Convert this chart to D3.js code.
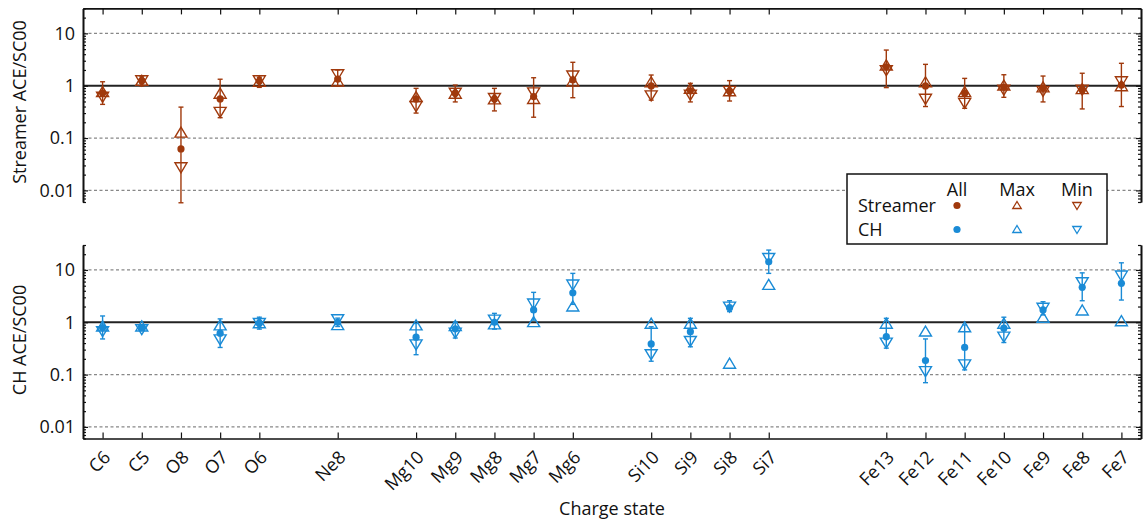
<!DOCTYPE html>
<html><head><meta charset="utf-8">
<script src="https://cdn.jsdelivr.net/npm/d3@7"></script>
<style>
body{margin:0;background:#fff}
svg{display:block}
text{font-family:"Open Sans",sans-serif;fill:#111}
</style>
</head><body><svg id="chart" width="1143" height="522"></svg>
<script>
// ---------- data ----------
const slotOrder = ["C6","C5","O8","O7","O6","","Ne8","","Mg10","Mg9","Mg8","Mg7","Mg6","","Si10","Si9","Si8","Si7","","","Fe13","Fe12","Fe11","Fe10","Fe9","Fe8","Fe7"];
const categories = ["C6","C5","O8","O7","O6","Ne8","Mg10","Mg9","Mg8","Mg7","Mg6","Si10","Si9","Si8","Si7","Fe13","Fe12","Fe11","Fe10","Fe9","Fe8","Fe7"];
const yTickValues = [0.01, 0.1, 1, 10];
const yTickLabels = ["0.01","0.1","1","10"];
const seriesNames = ["Streamer","CH"];
const statNames = ["All","Max","Min"];

// Streamer (top panel)
const streamerAll = [0.72,1.25,0.062,0.56,1.23,1.34,0.56,0.72,0.56,0.62,1.29,0.99,0.80,0.79,null,2.3,0.99,0.72,0.93,0.89,0.83,1.03];
const streamerLo  = [0.44,0.99,0.0058,0.245,0.93,0.99,0.30,0.49,0.33,0.25,0.59,0.53,0.49,0.51,null,0.92,0.40,0.37,0.60,0.49,0.36,0.40];
const streamerHi  = [1.19,1.53,0.39,1.33,1.45,2.0,0.89,1.03,0.89,1.42,2.8,1.6,1.11,1.25,null,4.8,2.56,1.38,1.62,1.53,1.73,2.68];
const streamerMax = [0.77,1.27,0.13,0.72,1.22,1.23,0.62,0.72,0.56,0.57,1.23,1.19,0.89,0.80,null,2.49,1.19,0.77,1.03,0.95,0.88,1.0];
const streamerMin = [0.60,1.24,0.027,0.31,1.24,1.62,0.40,0.72,0.57,0.73,1.53,0.64,0.66,0.78,null,1.94,0.55,0.46,0.82,0.78,0.82,1.19];

// CH (bottom panel)
const chAll = [0.79,0.79,null,0.62,0.96,1.0,0.52,0.75,1.0,1.72,3.67,0.385,0.66,1.9,14.3,0.53,0.185,0.33,0.77,1.72,4.66,5.55];
const chLo  = [0.48,0.70,null,0.33,0.74,0.83,0.24,0.50,0.74,1.1,2.2,0.18,0.34,1.6,8.6,0.32,0.07,0.123,0.41,1.38,2.58,2.66];
const chHi  = [1.32,0.88,null,1.16,1.25,1.2,0.95,1.0,1.48,3.73,8.6,0.82,1.19,2.58,24,1.19,0.48,0.89,1.25,2.47,8.8,13.7];
const chMax = [0.85,0.85,null,0.89,0.98,0.9,0.89,0.87,0.93,1.03,2.05,0.96,0.96,0.165,5.3,0.96,0.68,0.82,0.96,1.25,1.72,1.07];
const chMin = [0.66,0.72,null,0.46,0.95,1.12,0.37,0.62,1.1,2.23,5.15,0.24,0.43,1.95,16.6,0.40,0.114,0.153,0.52,1.85,5.7,7.65];

// ---------- layout ----------
const W = 1143, H = 522;
const left = 83, right = 1141;
const colors = {Streamer:"#a0390c", CH:"#1a8bd6"};
const svg = d3.select("#chart");

const slotKeys = slotOrder.map((d,i)=> d || ("gap"+i));
const x = d3.scalePoint().domain(slotKeys).range([left, right]).padding(0.5);

const panels = [
  {name:"Streamer", title:"Streamer ACE/SC00", top:8.4, bottom:202, all:streamerAll, lo:streamerLo, hi:streamerHi, max:streamerMax, min:streamerMin, xAxis:"top", titleY:102},
  {name:"CH", title:"CH ACE/SC00", top:245, bottom:438.5, all:chAll, lo:chLo, hi:chHi, max:chMax, min:chMin, xAxis:"bottom", titleY:340}
];

const triUp = (s,h)=>`M0,${-h/2}L${s/2},${h/2}L${-s/2},${h/2}Z`;
const triDown = (s,h)=>`M0,${h/2}L${s/2},${-h/2}L${-s/2},${-h/2}Z`;

const allTicks = d3.scaleLog().domain([0.006,30]).ticks();
const minorVals = allTicks.filter(v => !yTickValues.some(m => Math.abs(m - v) < 1e-12));
const fmt = d => yTickLabels[yTickValues.findIndex(m => Math.abs(m-d)<1e-12)];

panels.forEach(p => {
  const y = d3.scaleLog().domain([0.006, 30]).range([p.bottom, p.top]);
  const g = svg.append("g");
  const col = colors[p.name];

  // gridlines
  g.selectAll("line.grid").data(yTickValues.filter(v=>v!==1)).join("line")
    .attr("x1", left).attr("x2", right)
    .attr("y1", d=>y(d)).attr("y2", d=>y(d))
    .attr("stroke","#888").attr("stroke-width",1.2).attr("stroke-dasharray","3,2.5");
  g.append("line").attr("x1",left).attr("x2",right).attr("y1",y(1)).attr("y2",y(1))
    .attr("stroke","#222").attr("stroke-width",2);

  const rows = categories.map((c,i)=>({c, all:p.all[i], lo:p.lo[i], hi:p.hi[i], max:p.max[i], min:p.min[i]})).filter(d=>d.all!=null);

  // error bars
  const eb = g.append("g").attr("stroke", col).attr("stroke-width",1.4).attr("fill","none");
  eb.selectAll("line.v").data(rows).join("line")
    .attr("x1", d=>x(d.c)).attr("x2", d=>x(d.c)).attr("y1", d=>y(d.lo)).attr("y2", d=>y(d.hi));
  eb.selectAll("line.lo").data(rows).join("line")
    .attr("x1", d=>x(d.c)-2.5).attr("x2", d=>x(d.c)+2.5).attr("y1", d=>y(d.lo)).attr("y2", d=>y(d.lo));
  eb.selectAll("line.hi").data(rows).join("line")
    .attr("x1", d=>x(d.c)-2.5).attr("x2", d=>x(d.c)+2.5).attr("y1", d=>y(d.hi)).attr("y2", d=>y(d.hi));

  // max (up triangles), min (down triangles)
  g.selectAll("path.max").data(rows).join("path")
    .attr("d", triUp(12,10)).attr("transform", d=>`translate(${x(d.c)},${y(d.max)})`)
    .attr("fill","none").attr("stroke",col).attr("stroke-width",1.4);
  g.selectAll("path.min").data(rows).join("path")
    .attr("d", triDown(12,10)).attr("transform", d=>`translate(${x(d.c)},${y(d.min)})`)
    .attr("fill","none").attr("stroke",col).attr("stroke-width",1.4);
  // all (dots)
  g.selectAll("circle.all").data(rows).join("circle")
    .attr("cx", d=>x(d.c)).attr("cy", d=>y(d.all)).attr("r",3.6).attr("fill",col);

  // y axes
  const axStyle = sel => { sel.selectAll("path.domain").attr("stroke","#111").attr("stroke-width",1.6);
    sel.selectAll(".tick line").attr("stroke","#111").attr("stroke-width",1.2);
    sel.selectAll("text").style("font-size","18px").attr("fill","#111").style("font-family","'Open Sans',sans-serif"); };
  g.append("g").attr("transform",`translate(${left},0)`)
    .call(d3.axisLeft(y).tickValues(minorVals).tickSize(-3).tickSizeOuter(0).tickFormat(""))
    .call(axStyle);
  g.append("g").attr("transform",`translate(${left},0)`)
    .call(d3.axisLeft(y).tickValues(yTickValues).tickSize(-5).tickSizeOuter(0).tickPadding(8).tickFormat(fmt))
    .call(axStyle);
  g.append("g").attr("transform",`translate(${right},0)`)
    .call(d3.axisRight(y).tickValues(minorVals).tickSize(-3).tickSizeOuter(0).tickFormat(""))
    .call(axStyle);
  g.append("g").attr("transform",`translate(${right},0)`)
    .call(d3.axisRight(y).tickValues(yTickValues).tickSize(-5).tickSizeOuter(0).tickFormat(""))
    .call(axStyle);

  // x axis
  if (p.xAxis === "top") {
    g.append("g").attr("transform",`translate(0,${p.top})`)
      .call(d3.axisTop(x).tickValues(categories).tickSize(-6).tickSizeOuter(0).tickFormat(""))
      .call(axStyle);
  } else {
    const xa = g.append("g").attr("transform",`translate(0,${p.bottom})`)
      .call(d3.axisBottom(x).tickValues(categories).tickSize(-6).tickSizeOuter(0).tickFormat(""))
      .call(axStyle);
    g.selectAll("text.xl").data(categories).join("text")
      .attr("transform", d=>`translate(${x(d)+9},${p.bottom+20}) rotate(-45)`)
      .attr("text-anchor","end").style("font-size","18px").text(d=>d);
  }

  // y title
  g.append("text").attr("transform",`translate(26,${p.titleY}) rotate(-90)`)
    .attr("text-anchor","middle").style("font-size","18px").text(p.title);
});

// x title
svg.append("text").attr("x", 612).attr("y", 515).attr("text-anchor","middle").style("font-size","18px").text("Charge state");

// legend
const lg = svg.append("g");
lg.append("rect").attr("x",847).attr("y",174).attr("width",260).attr("height",70)
  .attr("fill","#fff").attr("stroke","#111").attr("stroke-width",1.5);
const colX = [957, 1017, 1077];
lg.selectAll("text.hdr").data(statNames).join("text")
  .attr("x",(d,i)=>colX[i]).attr("y",195.5).attr("text-anchor","middle").style("font-size","18px").text(d=>d);
const rowY = [205.5, 229.5];
seriesNames.forEach((s,i)=>{
  const c = colors[s];
  lg.append("text").attr("x",858).attr("y",rowY[i]+6).style("font-size","18px").text(s);
  lg.append("circle").attr("cx",colX[0]).attr("cy",rowY[i]).attr("r",3.6).attr("fill",c);
  lg.append("path").attr("d",triUp(8.5,7)).attr("transform",`translate(${colX[1]},${rowY[i]-0.5})`)
    .attr("fill","none").attr("stroke",c).attr("stroke-width",1.3);
  lg.append("path").attr("d",triDown(8.5,7)).attr("transform",`translate(${colX[2]},${rowY[i]+0.5})`)
    .attr("fill","none").attr("stroke",c).attr("stroke-width",1.3);
});
</script>
</body></html>
